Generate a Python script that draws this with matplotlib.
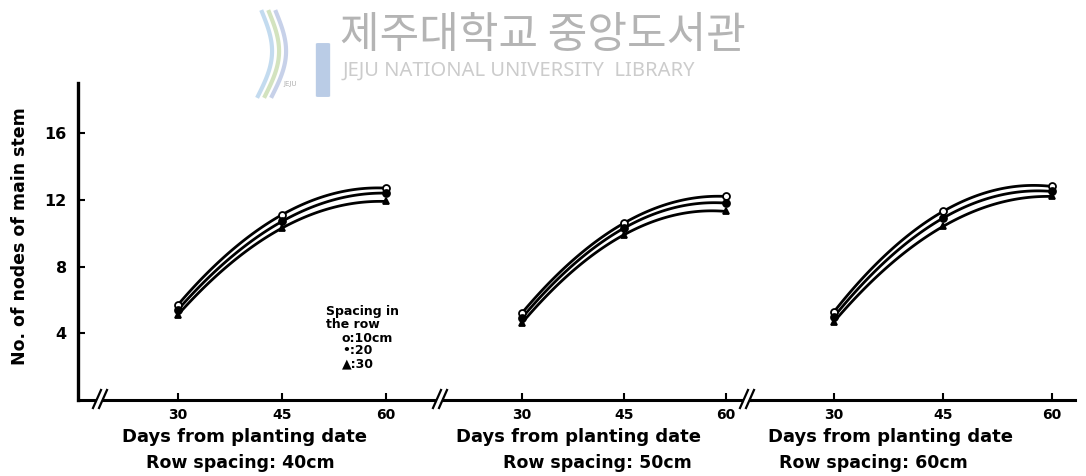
import numpy as np
import matplotlib
matplotlib.use("Agg")
import matplotlib.pyplot as plt
from matplotlib.lines import Line2D
from matplotlib.patches import FancyBboxPatch, Rectangle

# Days after planting and node counts of the main stem
days = [30, 45, 60]
row_spacings = ["40cm", "50cm", "60cm"]
in_row_labels = ["10cm", "20", "30"]

nodes_row40 = {"10cm": [5.7, 11.1, 12.7], "20": [5.4, 10.7, 12.4], "30": [5.1, 10.3, 11.9]}
nodes_row50 = {"10cm": [5.2, 10.6, 12.2], "20": [4.9, 10.3, 11.8], "30": [4.6, 9.9, 11.3]}
nodes_row60 = {"10cm": [5.3, 11.3, 12.8], "20": [5.0, 10.9, 12.5], "30": [4.7, 10.4, 12.2]}
panels = [nodes_row40, nodes_row50, nodes_row60]

y_ticks = [4, 8, 12, 16]

markers = {"10cm": dict(marker="o", mfc="white"),
           "20": dict(marker="o", mfc="black"),
           "30": dict(marker="^", mfc="black")}

W, H = 1086, 476
fig = plt.figure(figsize=(W / 100, H / 100), dpi=100)
fig.patch.set_facecolor("white")

FONT = "DejaVu Sans"

def fx(px):
    return px / W

def fy(py):
    return 1 - py / H

y_bottom_px, y_top_px = 400, 83
ylim = (0, 19)
panel_px = [(78, 440, (15.6, 67.8)), (440, 750, (18.0, 63.5)), (750, 1075, (18.4, 63.2))]

axes = []
for i, (x0, x1, xl) in enumerate(panel_px):
    ax = fig.add_axes([fx(x0), fy(y_bottom_px), (x1 - x0) / W, (y_bottom_px - y_top_px) / H])
    ax.set_xlim(*xl)
    ax.set_ylim(*ylim)
    ax.patch.set_alpha(0)
    for s in ("top", "right"):
        ax.spines[s].set_visible(False)
    ax.spines["bottom"].set_linewidth(2.2)
    ax.spines["left"].set_linewidth(2.4)
    if i > 0:
        ax.spines["left"].set_visible(False)
        ax.set_yticks([])
    else:
        ax.set_yticks(y_ticks)
        ax.set_yticklabels([str(t) for t in y_ticks], fontsize=11.5, fontweight="bold", family=FONT)
        ax.tick_params(axis="y", direction="in", length=5, width=1.5, pad=8)
    ax.set_xticks(days)
    ax.set_xticklabels([str(d) for d in days], fontsize=10, fontweight="bold", family=FONT)
    ax.tick_params(axis="x", direction="in", length=5, width=1.5, pad=6)

    data = panels[i]
    xs = np.linspace(days[0], days[-1], 100)
    for key in in_row_labels:
        vals = data[key]
        coef = np.polyfit(days, vals, 2)
        ax.plot(xs, np.polyval(coef, xs), color="black", lw=2.0, solid_capstyle="round", zorder=3)
        ax.plot(days, vals, linestyle="none", ms=5, mec="black", mew=1.3,
                zorder=4, **markers[key])
    axes.append(ax)

# Axis labels
fig.text(fx(20), fy(236), "No. of nodes of main stem", rotation=90, ha="center", va="center",
         fontsize=12.5, fontweight="bold", family=FONT)

xlabel_pos = [(245, 240), (578, 597), (890, 873)]
for (cx1, cx2), rs in zip(xlabel_pos, row_spacings):
    fig.text(fx(cx1), fy(437), "Days from planting date", ha="center", va="center",
             fontsize=13, fontweight="bold", family=FONT)
    fig.text(fx(cx2), fy(463), f"Row spacing: {rs}", ha="center", va="center",
             fontsize=12.5, fontweight="bold", family=FONT)

# Break marks on the horizontal axis
def axis_break(xp, yp=399):
    fig.add_artist(Rectangle((fx(xp - 3), fy(yp + 3)), 6 / W, 6 / H, transform=fig.transFigure,
                             facecolor="white", edgecolor="none", zorder=5))
    for dx in (-3, 3):
        fig.add_artist(Line2D([fx(xp + dx - 4), fx(xp + dx + 4)], [fy(yp + 9), fy(yp - 9)],
                              transform=fig.transFigure, color="black", lw=1.6, zorder=6))

for bx in (100, 440, 747):
    axis_break(bx)

# In-row spacing key
key_lines = [(326, 312, "Spacing in"), (326, 325, "the row"),
             (342, 338, "o:10cm"), (342, 351, "•:20"), (342, 364, "▲:30")]
for kx, ky, txt in key_lines:
    fig.text(fx(kx), fy(ky), txt, ha="left", va="center", fontsize=9,
             fontweight="bold", family=FONT)

# Library watermark
fig.text(fx(340), fy(36), "제주대학교 중앙도서관", ha="left", va="center", fontsize=31,
         color="#b4b4b4", family=["Noto Sans CJK KR", "DejaVu Sans"])
fig.text(fx(343), fy(71), "JEJU NATIONAL UNIVERSITY  LIBRARY", ha="left", va="center",
         fontsize=14.5, color="#cccccc", family=["Noto Sans", "DejaVu Sans"])
fig.add_artist(FancyBboxPatch((fx(318), fy(96)), 10 / W, 52 / H,
                              boxstyle="round,pad=0.002", transform=fig.transFigure,
                              facecolor="#a9c0e0", edgecolor="none", alpha=0.8))
t = np.linspace(0, 1, 50)
for off, col in ((0, "#b5d2ec"), (7, "#c8dcb0"), (14, "#b9c6e4")):
    xs_l = 262 + off + 12 * np.sin(np.pi * t) - 4 * t
    ys_l = 12 + 84 * t
    fig.add_artist(Line2D(fx(xs_l), fy(ys_l), transform=fig.transFigure, color=col, lw=3, alpha=0.8))
fig.text(fx(290), fy(84), "JEJU", ha="center", va="center", fontsize=5, color="#b0b0b0")

fig.savefig("out.png", dpi=100, facecolor="white")
